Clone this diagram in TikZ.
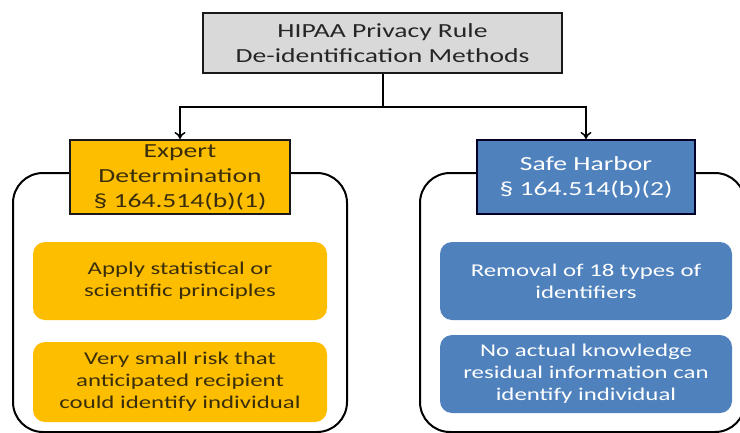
\documentclass[tikz,border=0pt]{standalone}
\usepackage{fontspec}
\setmainfont{Carlito}[FakeStretch=1.38]
\usetikzlibrary{arrows.meta}
\definecolor{hdrgray}{HTML}{D9D9D9}
\definecolor{orng}{HTML}{FDBE00}
\definecolor{blu}{HTML}{4F81BD}
\definecolor{txtdark}{HTML}{262626}
\definecolor{orngtxt}{HTML}{3A2E0A}
\tikzset{
  hdr/.style={draw=black!90, line width=2pt, align=center, inner sep=0pt, font=\fontsize{20}{25}\selectfont},
  inner/.style={rounded corners=12pt, align=center, inner sep=0pt, font=\fontsize{18}{22}\selectfont},
  cont/.style={draw=black, line width=2pt, rounded corners=30pt, inner sep=0pt},
  conn/.style={line width=2pt, draw=black},
  arr/.style={conn, -{To[length=7pt,width=11pt,line width=1.5pt]}}
}
\begin{document}
\begin{tikzpicture}[x=1pt,y=-1pt]
\useasboundingbox (0,0) rectangle (740,432);
\clip (0,0) rectangle (740,432);
% containers
\node[cont, minimum width=334pt, minimum height=259pt] (lc) at (180,302.5) {};
\node[cont, minimum width=325pt, minimum height=259pt] (rc) at (582.5,302.5) {};
% top
\node[hdr, fill=hdrgray, text=txtdark, minimum width=359pt, minimum height=60pt] (top) at (382.5,43) {HIPAA Privacy Rule\\De-identification Methods};
% headers
\node[hdr, fill=orng, text=orngtxt, minimum width=220pt, minimum height=74pt] (ed) at (180,177) {Expert\\Determination\\§ 164.514(b)(1)};
\node[hdr, draw=black!85!blue, fill=blu, text=white, minimum width=218pt, minimum height=74pt] (sh) at (586,177) {Safe Harbor\\§ 164.514(b)(2)};
% inner boxes
\node[inner, fill=orng, text=orngtxt, minimum width=294pt, minimum height=78pt] (e1) at (180,281) {Apply statistical or\\scientific principles};
\node[inner, fill=orng, text=orngtxt, minimum width=294pt, minimum height=80pt] (e2) at (180,382) {Very small risk that\\anticipated recipient\\could identify individual};
\node[inner, fill=blu, text=white, minimum width=292pt, minimum height=78pt] (s1) at (586,281) {Removal of 18 types of\\identifiers};
\node[inner, fill=blu, text=white, minimum width=292pt, minimum height=78pt] (s2) at (586,374) {No actual knowledge\\residual information can\\identify individual};
% connectors
\coordinate (j) at (top.south |- 0,107);
\draw[conn] (top.south) -- (j);
\draw[arr] (j) -| (ed.north);
\draw[arr] (j) -| (sh.north);
\end{tikzpicture}
\end{document}
